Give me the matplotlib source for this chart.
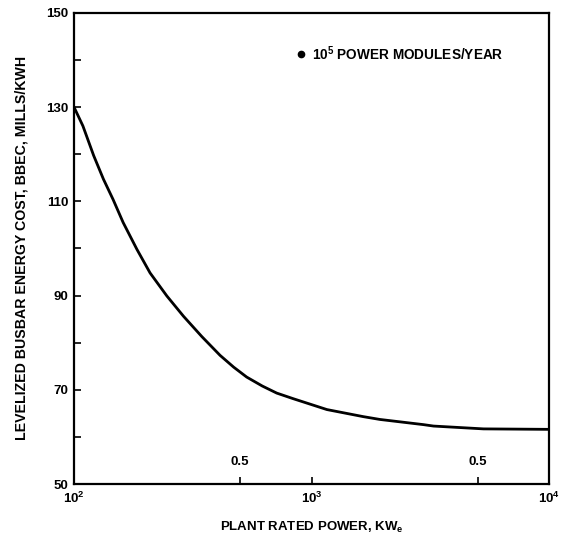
import numpy as np
import matplotlib
matplotlib.use("Agg")
import matplotlib.pyplot as plt
from matplotlib.ticker import FixedLocator, NullFormatter

# values
power_kw = [100, 109, 121, 133, 146, 161, 184, 209, 246, 289, 345, 412, 470,
            533, 620, 713, 838, 1160, 1650, 1940, 2960, 3260, 5290, 10000]
bbec = [130.0, 126.0, 119.7, 114.7, 110.4, 105.5, 99.8, 94.8, 89.9, 85.6, 81.3,
        77.3, 74.8, 72.7, 70.8, 69.3, 68.1, 65.8, 64.3, 63.7, 62.6, 62.3,
        61.7, 61.6]

y_major = [50, 70, 90, 110, 130, 150]
y_minor = [60, 80, 100, 120, 140]
x_major = [1e2, 1e3, 1e4]
x_major_labels = ["$10^2$", "$10^3$", "$10^4$"]
x_marks = [500, 5000]
x_mark_labels = ["0.5", "0.5"]

plt.rcParams["font.family"] = ["Liberation Sans", "DejaVu Sans"]
plt.rcParams["mathtext.fontset"] = "custom"
plt.rcParams["mathtext.rm"] = "Liberation Sans:bold"
plt.rcParams["mathtext.it"] = "Liberation Sans:bold"
plt.rcParams["mathtext.bf"] = "Liberation Sans:bold"

fig = plt.figure(figsize=(5.65, 5.36), dpi=100)
ax = fig.add_axes([0.131, 0.097, 0.841, 0.879])

ax.plot(power_kw, bbec, color="black", lw=2.0,
        solid_capstyle="round", solid_joinstyle="round")

ax.set_xscale("log")
ax.set_xlim(1e2, 1e4)
ax.set_ylim(50, 150)

ax.xaxis.set_major_locator(FixedLocator(x_major))
ax.set_xticklabels(x_major_labels)
ax.xaxis.set_minor_locator(FixedLocator(x_marks))
ax.xaxis.set_minor_formatter(NullFormatter())
ax.yaxis.set_major_locator(FixedLocator(y_major))
ax.yaxis.set_minor_locator(FixedLocator(y_minor))

ax.tick_params(axis="both", which="both", direction="in", length=5, width=1.2,
               labelsize=9.5, pad=4)
ax.tick_params(axis="x", which="major", length=5, pad=5)
ax.tick_params(top=False, right=False)
for lab in ax.get_xticklabels() + ax.get_yticklabels():
    lab.set_fontweight("bold")

for sp in ax.spines.values():
    sp.set_linewidth(1.6)

for xm, lab in zip(x_marks, x_mark_labels):
    ax.text(xm, 53.5, lab, ha="center", va="bottom", fontsize=9.5, fontweight="bold")

ax.plot([900], [141.3], "o", color="black", ms=4.5)
ax.text(1000, 141.3, "$10^5$ POWER MODULES/YEAR", ha="left", va="center",
        fontsize=9.8, fontweight="bold")

ax.set_xlabel("PLANT RATED POWER, KW$_e$", fontsize=9.5, fontweight="bold", labelpad=10)
ax.set_ylabel("LEVELIZED BUSBAR ENERGY COST, BBEC, MILLS/KWH", fontsize=10.2,
              fontweight="bold", labelpad=13)

fig.savefig("out.png", dpi=100)
